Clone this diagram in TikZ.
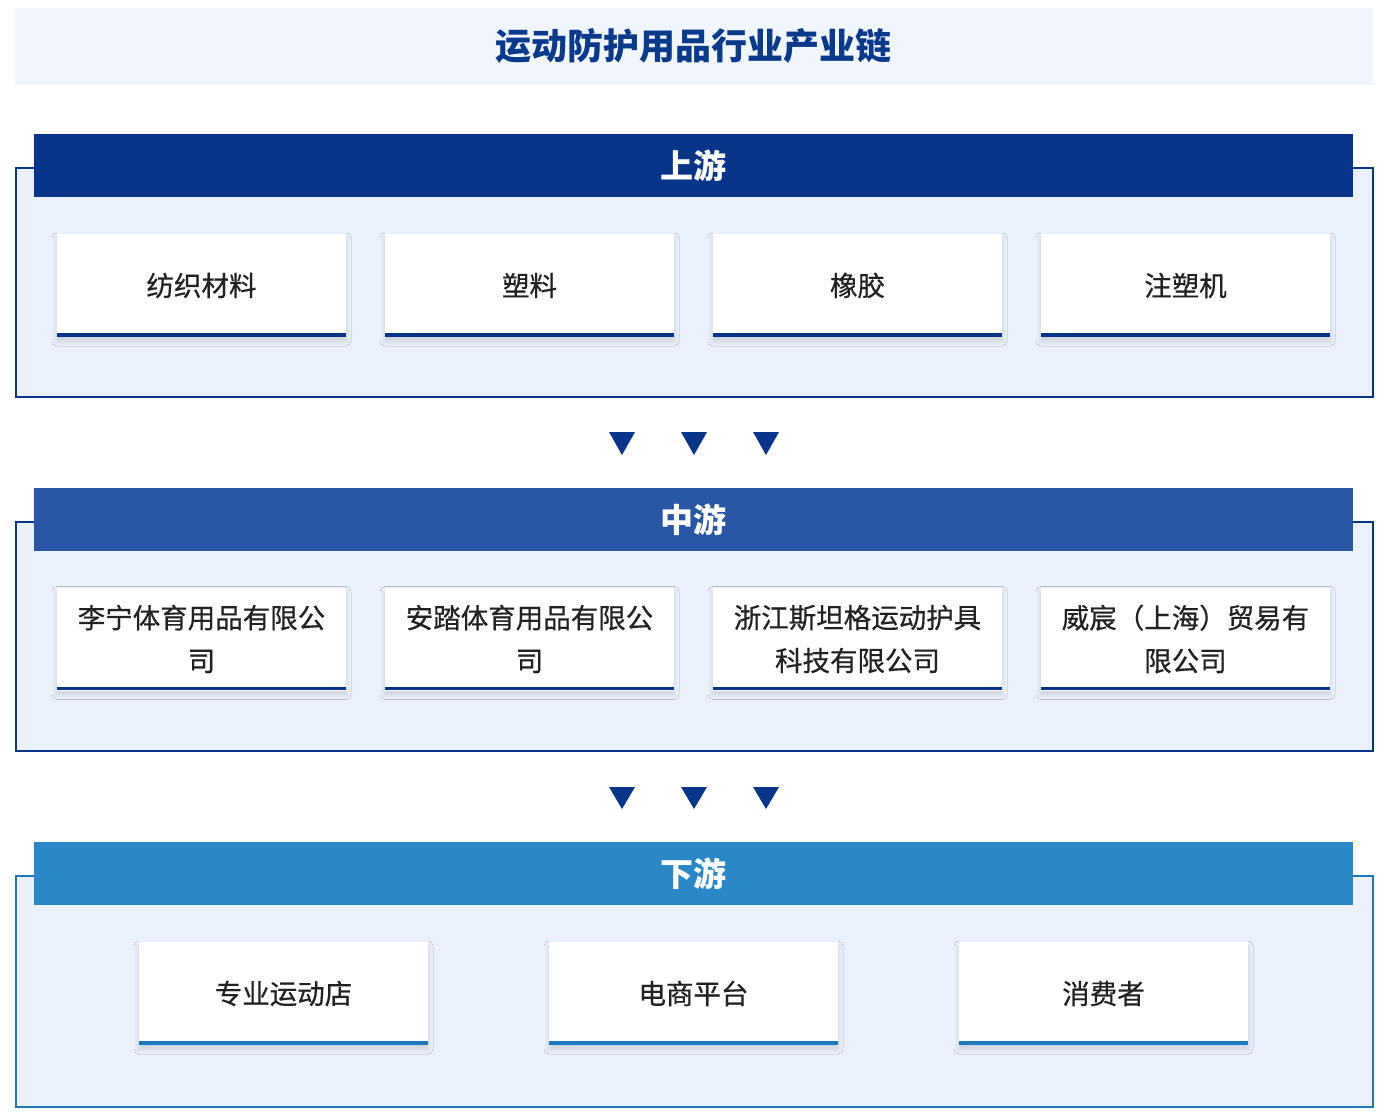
\documentclass[tikz,border=0pt]{standalone}
\usepackage{fontspec}
\setmainfont{Noto Sans CJK SC}
\newfontfamily\cardfont[FakeBold=0.6]{Noto Sans CJK SC}
\usetikzlibrary{shadows.blur}
\definecolor{titlebg}{HTML}{F1F5FC}
\definecolor{titlefg}{HTML}{0B3A8C}
\definecolor{panelbg}{HTML}{EBF1FC}
\definecolor{upc}{HTML}{08358A}
\definecolor{midc}{HTML}{2A56A6}
\definecolor{downc}{HTML}{2A88C6}
\definecolor{downedge}{HTML}{1E78C0}
\definecolor{txt}{HTML}{222222}
\tikzset{
  panel/.style={draw=#1, line width=2pt, fill=panelbg, anchor=north west, inner sep=0pt, minimum width=1357pt, minimum height=229pt},
  header/.style={fill=#1, text=white, minimum width=1319pt, minimum height=63pt, inner sep=0pt, font=\bfseries\fontsize{33}{36}\selectfont},
  card/.style={fill=white, minimum width=289pt, minimum height=103pt, inner sep=0pt, align=center, text=txt,
     font=\cardfont\fontsize{27.5}{43}\selectfont,
     blur shadow={shadow xshift=0pt, shadow yshift=-4pt, shadow blur radius=5pt, shadow blur steps=8, shadow opacity=14}},
  cardline/.style={line width=3.5pt, draw=#1},
  tri/.style={fill=upc}
}
\begin{document}
\begin{tikzpicture}[x=1pt,y=-1pt]
\useasboundingbox (0,0) rectangle (1388,1112);
\fill[white] (0,0) rectangle (1388,1112);
% title
\node[fill=titlebg, minimum width=1358pt, minimum height=77pt, inner sep=0pt] (title) at (694,46.5) {};
\node[text=titlefg, font=\bfseries\fontsize{36}{40}\selectfont] (titletext) at (693,46) {运动防护用品行业产业链};

% upstream
\node[panel=upc] (p1) at (15,167) {};
\node[header=upc] (h1) at (693.5,165.5) {上游};
\foreach \n/\x/\t in {a/201.5/纺织材料, b/529.5/塑料, c/857.5/橡胶, d/1185.5/注塑机}{
  \node[card] (u\n) at (\x,285.5) {\raisebox{2pt}{\t}};
  \draw[cardline=upc] ([yshift=2pt]u\n.south west) -- ([yshift=2pt]u\n.south east);
}
% arrows 1
\foreach \x in {622,694,766}{
  \fill[tri] (\x-13,432) -- (\x+13,432) -- (\x,455) -- cycle;
}

% midstream
\node[panel=upc] (p2) at (15,521) {};
\node[header=midc] (h2) at (693.5,519.5) {中游};
\foreach \n/\x/\t in {a/201.5/{李宁体育用品有限公\\司}, b/529.5/{安踏体育用品有限公\\司}, c/857.5/{浙江斯坦格运动护具\\科技有限公司}, d/1185.5/{威宸（上海）贸易有\\限公司}}{
  \node[card] (m\n) at (\x,639) {\t};
  \draw[cardline=upc] ([yshift=2pt]m\n.south west) -- ([yshift=2pt]m\n.south east);
}
% arrows 2
\foreach \x in {622,694,766}{
  \fill[tri] (\x-13,787) -- (\x+13,787) -- (\x,809) -- cycle;
}

% downstream
\node[panel=downedge, minimum height=231pt] (p3) at (15,875) {};
\node[header=downc] (h3) at (693.5,873.5) {下游};
\foreach \n/\x/\t in {a/283.5/专业运动店, b/693.5/电商平台, c/1103.5/消费者}{
  \node[card] (d\n) at (\x,993.5) {\raisebox{2pt}{\t}};
  \draw[cardline=downedge] ([yshift=2pt]d\n.south west) -- ([yshift=2pt]d\n.south east);
}
\end{tikzpicture}
\end{document}
